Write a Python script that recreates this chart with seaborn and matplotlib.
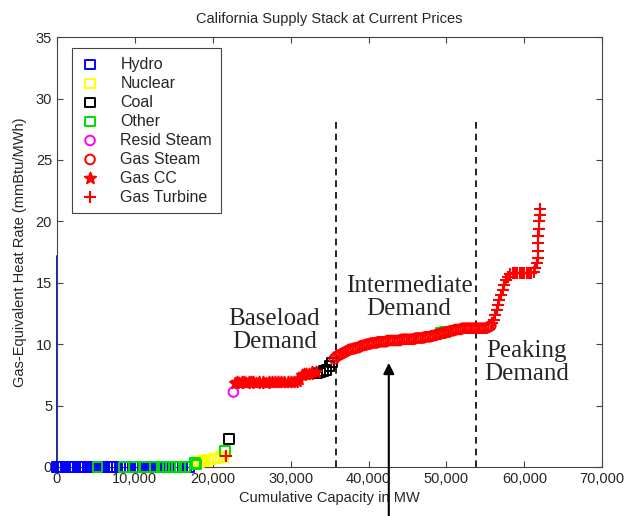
import matplotlib.pyplot as plt
import matplotlib.ticker as mticker
import numpy as np
import seaborn as sns

# ---- data: cumulative capacity (MW) vs heat rate (mmBtu/MWh) ----
hydro_line_mw = [0, 0]
hydro_line_hr = [0, 17.2]

hydro_mw = [0, 200, 500, 800, 1100, 1400, 1700, 2000, 2300, 2700, 3000, 3300,
            3600, 4000, 4300, 4700, 5000, 5400, 5800, 6100, 6500, 6900, 7300,
            7700, 8100, 8500, 8900, 9300, 9800, 10200, 10700, 11100, 11600,
            12100, 12600, 13100, 13600, 14100, 14600, 15100, 15600, 16100,
            16600, 17000]
hydro_hr = [0.0] * len(hydro_mw)

other_mw = [5200, 8600, 9900, 11300, 12500, 13400, 14200, 15000, 15800, 16500,
            17700, 17900, 21600, 49300, 49800]
other_hr = [0, 0, 0, 0, 0, 0, 0, 0, 0, 0, 0.3, 0.2, 1.3, 10.9, 11.0]

nuclear_mw = [18200, 18600, 19000, 19400, 19800, 20200, 20600, 21000, 21400]
nuclear_hr = [0.4, 0.5, 0.5, 0.6, 0.6, 0.7, 0.7, 0.8, 0.8]

coal_mw = [22100, 33400, 33800, 34200, 34600, 35000, 35300]
coal_hr = [2.3, 7.6, 7.7, 7.8, 7.9, 8.2, 8.5]

resid_mw = [22650]
resid_hr = [6.1]

gas_cc_mw = [22800, 23100, 23400, 23700, 24000, 24300, 24600, 24900, 25200,
             25600, 26000, 26400, 26800, 27200, 27600, 28000, 28400, 28800,
             29200, 29600, 30000, 30400, 30800, 31100, 31400, 31700, 32000,
             32400, 32800, 33200]
gas_cc_hr = [6.8, 6.9, 6.8, 6.9, 6.9, 6.8, 6.9, 6.9, 6.9, 6.8, 6.9, 6.9, 6.8,
             6.9, 6.9, 6.9, 6.9, 6.9, 6.9, 6.9, 6.9, 6.9, 7.0, 7.2, 7.5, 7.6,
             7.6, 7.6, 7.7, 7.7]

gas_steam_mw = [35600, 35900, 36200, 36500, 36800, 37100, 37400, 37700, 38000,
                38300, 38600, 38900, 39200, 39500, 39800, 40100, 40400, 40700,
                41000, 41300, 41600, 41900, 42200, 42500, 42800, 43100, 43400,
                43700, 44000, 44300, 44600, 44900, 45200, 45500, 45800, 46100,
                46400, 46700, 47000, 47300, 47600, 47900, 48200, 48500, 48800,
                49100, 49400, 49700, 50000, 50300, 50600, 50900, 51200, 51500,
                51800, 52100, 52400, 52700, 53000, 53300, 53600, 53900, 54200,
                54500, 54800, 55100, 55400, 55700]
gas_steam_hr = [8.8, 9.0, 9.1, 9.2, 9.3, 9.4, 9.5, 9.6, 9.6, 9.7, 9.7, 9.8,
                9.9, 9.9, 10.0, 10.0, 10.1, 10.1, 10.1, 10.2, 10.2, 10.2, 10.2,
                10.3, 10.3, 10.3, 10.3, 10.3, 10.3, 10.4, 10.4, 10.4, 10.4,
                10.4, 10.4, 10.5, 10.5, 10.5, 10.5, 10.6, 10.6, 10.6, 10.7,
                10.7, 10.8, 10.8, 10.9, 10.9, 11.0, 11.0, 11.1, 11.1, 11.2,
                11.2, 11.2, 11.3, 11.3, 11.3, 11.3, 11.3, 11.3, 11.3, 11.3,
                11.3, 11.3, 11.3, 11.4, 11.5]

gas_turbine_mw = [21700, 55900, 56100, 56300, 56500, 56600, 56800, 57000, 57200,
                  57400, 57600, 57900, 58200, 58500, 58800, 59100, 59400, 59700,
                  60000, 60300, 60600, 60900, 61200, 61400, 61600, 61700, 61700,
                  61800, 61800, 61900, 61900, 62000, 62000]
gas_turbine_hr = [0.9, 11.7, 12.0, 12.4, 12.8, 13.2, 13.6, 14.0, 14.4, 14.8,
                  15.2, 15.5, 15.7, 15.8, 15.8, 15.8, 15.8, 15.8, 15.8, 15.8,
                  15.8, 15.8, 15.9, 16.2, 16.6, 17.0, 17.6, 18.2, 18.8, 19.4,
                  20.0, 20.5, 21.0]

# demand region markers
baseload_edge = 35800
peaking_edge = 53800
arrow_mw = 42600

sns.set_style("ticks")
plt.rcParams["font.family"] = ["Liberation Sans", "DejaVu Sans"]
plt.rcParams["xtick.direction"] = "in"
plt.rcParams["ytick.direction"] = "in"

fig = plt.figure(figsize=(6.26, 5.16), dpi=100)
ax = fig.add_axes([0.091, 0.095, 0.871, 0.833])

ax.plot(hydro_line_mw, hydro_line_hr, color="blue", lw=1.3, clip_on=False)

series = [
    ("Hydro", hydro_mw, hydro_hr, "s", "blue", True),
    ("Nuclear", nuclear_mw, nuclear_hr, "s", "#ffff00", True),
    ("Coal", coal_mw, coal_hr, "s", "black", True),
    ("Other", other_mw, other_hr, "s", "#00dd00", True),
    ("Resid Steam", resid_mw, resid_hr, "o", "magenta", True),
    ("Gas Steam", gas_steam_mw, gas_steam_hr, "o", "red", True),
    ("Gas CC", gas_cc_mw, gas_cc_hr, "*", "red", False),
    ("Gas Turbine", gas_turbine_mw, gas_turbine_hr, "+", "red", False),
]
for name, xs, ys, mk, col, hollow in series:
    if hollow:
        sns.scatterplot(x=xs, y=ys, marker=mk, s=48, facecolor="none",
                        edgecolor=col, linewidth=1.4, label=name, ax=ax,
                        clip_on=False, zorder=3)
    else:
        sns.scatterplot(x=xs, y=ys, marker=mk, s=70, color=col, edgecolor=col,
                        linewidth=1.5, label=name, ax=ax, clip_on=False,
                        zorder=3)

for edge in [baseload_edge, peaking_edge]:
    ax.plot([edge, edge], [0, 28.5], color="black", lw=1.2,
            linestyle=(0, (4, 3)))

serif = ["Liberation Serif", "DejaVu Serif"]
ax.text(27900, 11.1, "Baseload\nDemand", ha="center", va="center",
        family=serif, fontsize=18, linespacing=1.05)
ax.text(45200, 13.8, "Intermediate\nDemand", ha="center", va="center",
        family=serif, fontsize=18, linespacing=1.05)
ax.text(60300, 8.5, "Peaking\nDemand", ha="center", va="center",
        family=serif, fontsize=18, linespacing=1.05)

ax.annotate("", xy=(arrow_mw, 8.7), xytext=(arrow_mw, -4.3),
            arrowprops=dict(arrowstyle="-|>", color="black", lw=1.5,
                            mutation_scale=16),
            annotation_clip=False)

ax.set_xlim(0, 70000)
ax.set_ylim(0, 35)
ax.set_xticks(range(0, 70001, 10000))
ax.set_yticks(range(0, 36, 5))
ax.xaxis.set_major_formatter(mticker.StrMethodFormatter("{x:,.0f}"))
ax.tick_params(top=True, right=True, labelsize=10.5, length=4, width=0.8,
               color="#444444")
for sp in ax.spines.values():
    sp.set_color("#444444")
    sp.set_linewidth(0.8)

ax.set_title("California Supply Stack at Current Prices", fontsize=10.5,
             pad=10)
ax.set_xlabel("Cumulative Capacity in MW", fontsize=10.5, labelpad=4)
ax.set_ylabel("Gas-Equivalent Heat Rate (mmBtu/MWh)", fontsize=10.5,
              labelpad=6)

leg = ax.legend(loc="upper left", bbox_to_anchor=(0.027, 0.975),
                borderaxespad=0, fancybox=False, edgecolor="#444444",
                fontsize=11.5, labelspacing=0.25, handlelength=1.2,
                handletextpad=1.3, borderpad=0.55, framealpha=1)
leg.get_frame().set_linewidth(0.8)

plt.savefig("out.png", dpi=100)
